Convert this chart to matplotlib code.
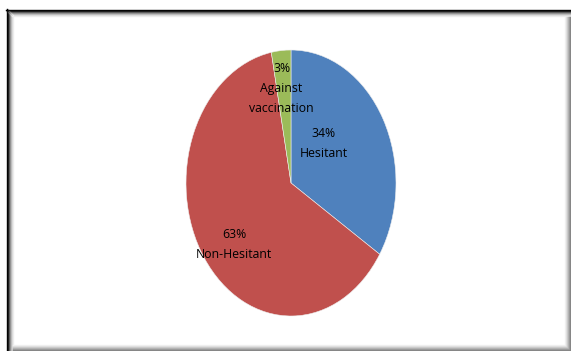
import matplotlib.pyplot as plt
from matplotlib.lines import Line2D

# data
labels = ['Hesitant', 'Non-Hesitant', 'Against\nvaccination']
shares = [34, 63, 3]
colors = ['#4F81BD', '#C0504D', '#9BBB59']
# label centres, in pie-axis units (Excel "best fit" spots)
label_pos = [(0.31, 0.30), (-0.54, -0.46), (-0.09, 0.71)]

W, H = 571, 351
fig = plt.figure(figsize=(W / 100, H / 100), dpi=100)
fig.patch.set_facecolor('white')

# pie is an ellipse in the original, so stretch the axes box
ax = fig.add_axes([186 / W, (H - 316) / H, 210 / W, 266 / H])
wedges, _ = ax.pie(shares, colors=colors, startangle=90, counterclock=False,
                   radius=1.0, wedgeprops=dict(linewidth=0.4, edgecolor='#eeeeee'))
ax.set_aspect('auto')
ax.set_xlim(-1, 1)
ax.set_ylim(-1, 1)

for lab, val, (x, y) in zip(labels, shares, label_pos):
    ax.text(x, y, f'{val}%\n{lab}', ha='center', va='center', fontsize=8.8,
            family='Open Sans', color='black', linespacing=1.7)

# frame with the inner shadow, in pixel coords
def hline(y, x0, x1, c, lw=1):
    fig.add_artist(Line2D([x0, x1], [H - y, H - y], transform=None, color=c, lw=lw))

def vline(x, y0, y1, c, lw=1):
    fig.add_artist(Line2D([x, x], [H - y0, H - y1], transform=None, color=c, lw=lw))

grays = ['#000000', '#111111', '#555555', '#8a8a8a', '#b5b5b5', '#d6d6d6', '#ececec']
for i, c in enumerate(grays):
    hline(9.5 + i, 6 + i, 571, c)
    vline(6.5 + i, 9 + i, 351, c)

shade = ['#f2f2f2', '#e3e3e3', '#cfcfcf', '#b8b8b8', '#a0a0a0', '#8a8a8a', '#777777']
for i, c in enumerate(shade):
    vline(564.5 + i, 10 + 7, 351, c)
    hline(344.5 + i, 13, 571, c)

fig.savefig('out.png', dpi=100)
